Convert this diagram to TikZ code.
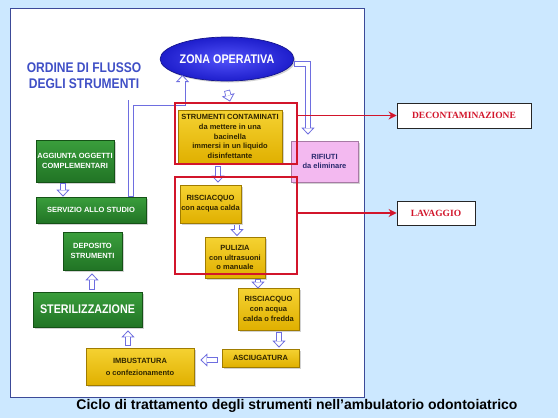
\documentclass[tikz,border=0pt]{standalone}
\usepackage{fontspec}
\setmainfont{Liberation Sans}
\newfontfamily\capbf{Liberation Sans Bold}
\newfontfamily\condbf[FakeStretch=0.86]{Liberation Sans Bold}
\newfontfamily\serbf{Liberation Serif Bold}
\usetikzlibrary{arrows.meta,shapes.geometric,shadows,calc}
\definecolor{bgblue}{HTML}{CCE8FF}
\definecolor{panelc}{HTML}{3C4A98}
\definecolor{goldt}{HTML}{F5D232}
\definecolor{goldb}{HTML}{E0B000}
\definecolor{goldd}{HTML}{A07C00}
\definecolor{goldtxt}{HTML}{2E2400}
\definecolor{grnt}{HTML}{3A9E3C}
\definecolor{grnb}{HTML}{217425}
\definecolor{grnd}{HTML}{145216}
\definecolor{pinkf}{HTML}{F3B9F0}
\definecolor{pinkd}{HTML}{A77AA5}
\definecolor{pinkt}{HTML}{2A2A6E}
\definecolor{arrowc}{HTML}{6E6EE0}
\definecolor{redc}{HTML}{D2152B}
\definecolor{titlec}{HTML}{3F4FC6}
\definecolor{zonain}{HTML}{5252FA}
\definecolor{zonaout}{HTML}{1E1ECC}
\newcommand\flowtube[1]{\draw[tubeo] #1; \draw[tubei] #1;}
\begin{document}
\begin{tikzpicture}[x=1pt,y=-1pt,
  shadowed/.style={drop shadow={shadow xshift=1.5pt, shadow yshift=-1.5pt, opacity=0.35}},
  box/.style={rectangle, inner sep=0pt, align=center, shadowed,
    font=\capbf\fontsize{7.5}{9.8}\selectfont},
  ybox/.style={box, top color=goldt, bottom color=goldb, draw=goldd, line width=0.7pt, text=goldtxt},
  gbox/.style={box, top color=grnt, bottom color=grnb, draw=grnd, line width=0.7pt, text=white},
  pbox/.style={box, fill=pinkf, draw=pinkd, line width=0.7pt, text=pinkt},
  redbox/.style={rectangle, draw=redc, line width=1.1pt, inner sep=0pt},
  labbox/.style={rectangle, draw=black!85, line width=0.9pt, fill=white, inner sep=0pt,
    font=\serbf\fontsize{9.5}{10}\selectfont, text=redc,
    drop shadow={shadow xshift=1pt, shadow yshift=-1pt, opacity=0.3}},
  redarrow/.style={draw=redc, line width=1.1pt, -{Stealth[length=8pt, width=8pt]}},
  tubeo/.style={draw=arrowc, line width=6pt, line join=miter,
    -{Triangle[open, length=7pt, width=13pt, line width=0.8pt]}},
  tubei/.style={draw=white, line width=4.4pt, line join=miter, shorten >=6.3pt, shorten <=0.8pt},
]
\useasboundingbox (0,0) rectangle (558,418);
\fill[bgblue] (0,0) rectangle (558,418);
\filldraw[fill=white, draw=panelc, line width=1pt] (10,8) rectangle (364,397);

% title
\node[font=\condbf\fontsize{14}{16}\selectfont, text=titlec, align=center] (title) at (84,75.5) {ORDINE DI FLUSSO\\DEGLI STRUMENTI};

% nodes
\node[ellipse, minimum width=108pt, minimum height=44pt, inner sep=0pt, draw=zonaout!70!black, line width=0.7pt,
  inner color=zonain, outer color=zonaout, shadowed, text=white,
  font=\condbf\fontsize{12.5}{14}\selectfont] (zona) at (227,59) {ZONA OPERATIVA};

\node[ybox, minimum width=104pt, minimum height=53pt] (strum) at (230,136.5)
  {STRUMENTI CONTAMINATI\\da mettere in una\\bacinella\\immersi in un liquido\\disinfettante};
\node[pbox, minimum width=67pt, minimum height=41pt] (rifiuti) at (324.5,161.5) {RIFIUTI\\da eliminare};
\node[ybox, minimum width=61pt, minimum height=38pt] (risc1) at (210.5,204) {RISCIACQUO\\con acqua calda};
\node[ybox, minimum width=60pt, minimum height=41pt] (pulizia) at (235,257.5) {PULIZIA\\con ultrasuoni\\o manuale};
\node[ybox, minimum width=61pt, minimum height=42pt] (risc2) at (268.5,309) {RISCIACQUO\\con acqua\\calda o fredda};
\node[ybox, minimum width=77pt, minimum height=18pt] (asciug) at (260.5,358) {ASCIUGATURA};
\node[ybox, minimum width=108pt, minimum height=37pt, font=\capbf\fontsize{7.5}{12}\selectfont] (imbust) at (140,366.5) {IMBUSTATURA\\o confezionamento};
\node[gbox, minimum width=109pt, minimum height=35pt, font=\condbf\fontsize{12.5}{14}\selectfont] (steril) at (87.5,309.5) {STERILIZZAZIONE};
\node[gbox, minimum width=59pt, minimum height=38pt] (deposito) at (92.5,251) {DEPOSITO\\STRUMENTI};
\node[gbox, minimum width=110pt, minimum height=26pt] (servizio) at (91,210) {SERVIZIO ALLO STUDIO};
\node[gbox, minimum width=78pt, minimum height=42pt] (aggiunta) at (75,161) {AGGIUNTA OGGETTI\\COMPLEMENTARI};

\node[labbox, minimum width=134pt, minimum height=25pt] (decon) at (464,115.5) {DECONTAMINAZIONE};
\node[labbox, minimum width=78pt, minimum height=24pt] (lavag) at (436,213) {LAVAGGIO};

% hollow flow arrows
\coordinate (zturn) at (182.5,102.5);
\coordinate (zin) at (182.5,75);
\flowtube{($(zona.south)+(0,9)$) -- ($(strum.north)+(0,-8)$)}
\flowtube{($(strum.south)+(-12,3)$) -- ($(risc1.north)+(7.5,-2)$)}
\flowtube{($(pulizia.north)+(2,-12)$) -- ($(pulizia.north)+(2,-0.5)$)}
\flowtube{($(pulizia.south)+(23,1)$) -- ($(risc2.north)+(-10.5,1)$)}
\flowtube{($(risc2.south)+(10.5,2)$) -- ($(asciug.north)+(18.5,-1)$)}
\flowtube{($(asciug.west)+(-4,2)$) -- ($(imbust.east)+(6,-6.5)$)}
\flowtube{($(imbust.north)+(-12,-2)$) -- ($(steril.south)+(40.5,3)$)}
\flowtube{($(steril.north)+(4.5,-2)$) -- ($(deposito.south)+(-0.5,3)$)}
\flowtube{($(aggiunta.south)+(-12,1)$) -- ($(servizio.north)+(-28,0)$)}
\flowtube{($(servizio.north)+(40,0)$) |- (zturn) -- (zin)}
\flowtube{($(zona.east)+(0,5)$) -| ($(rifiuti.north)+(-16.5,-6)$)}

% red groups
\node[redbox, minimum width=122pt, minimum height=61pt] (red1) at (236,133.5) {};
\node[redbox, minimum width=122pt, minimum height=97pt] (red2) at (236,225.5) {};
\draw[redarrow] (red1.east |- decon.west) -- (decon.west);
\draw[redarrow] (red2.east |- lavag.west) -- (lavag.west);

% caption
\node[font=\capbf\fontsize{14}{16}\selectfont] (cap) at (297,406) {Ciclo di trattamento degli strumenti nell’ambulatorio odontoiatrico};
\end{tikzpicture}
\end{document}
